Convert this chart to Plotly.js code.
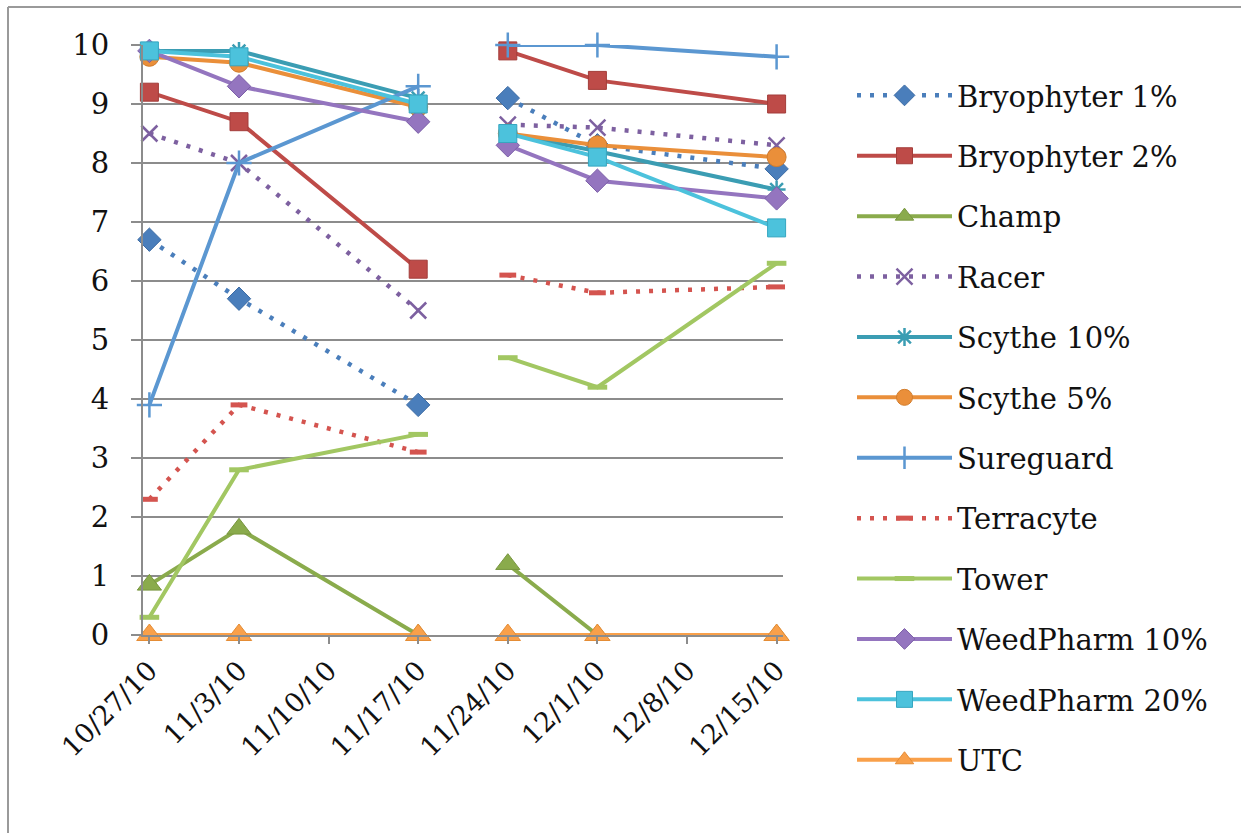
<!DOCTYPE html>
<html>
<head>
<meta charset="utf-8">
<script src="https://cdn.plot.ly/plotly-3.0.1.min.js"></script>
<style>
html,body{margin:0;padding:0;background:#fff;}
#chart{width:1241px;height:833px;}
</style>
</head>
<body>
<div id="chart"></div>
<script>
// ---- data ----
const dates = ['2010-10-27','2010-11-03','2010-11-17','2010-11-24','2010-12-01','2010-12-15'];
const tickDates = ['2010-10-27','2010-11-03','2010-11-10','2010-11-17','2010-11-24','2010-12-01','2010-12-08','2010-12-15'];
const tickLabels = ['10/27/10','11/3/10','11/10/10','11/17/10','11/24/10','12/1/10','12/8/10','12/15/10'];
const seriesNames = ['Bryophyter 1%','Bryophyter 2%','Champ','Racer','Scythe 10%','Scythe 5%','Sureguard','Terracyte','Tower','WeedPharm 10%','WeedPharm 20%','UTC'];
const bryophyter1 = [6.7, 5.7, 3.9, 9.1, 8.3, 7.9];
const bryophyter2 = [9.2, 8.7, 6.2, 9.9, 9.4, 9.0];
const champ       = [0.85, 1.8, 0, 1.2, 0, 0];
const racer       = [8.5, 8.0, 5.5, 8.65, 8.6, 8.3];
const scythe10    = [9.9, 9.9, 9.1, 8.5, 8.2, 7.55];
const scythe5     = [9.8, 9.7, 8.95, 8.5, 8.3, 8.1];
const sureguard   = [3.9, 8.0, 9.3, 10.0, 10.0, 9.8];
const terracyte   = [2.3, 3.9, 3.1, 6.1, 5.8, 5.9];
const tower       = [0.3, 2.8, 3.4, 4.7, 4.2, 6.3];
const weedPharm10 = [9.9, 9.3, 8.7, 8.3, 7.7, 7.4];
const weedPharm20 = [9.9, 9.8, 9.0, 8.5, 8.1, 6.9];
const utc         = [0, 0, 0, 0, 0, 0];
const seriesValues = [bryophyter1, bryophyter2, champ, racer, scythe10, scythe5, sureguard, terracyte, tower, weedPharm10, weedPharm20, utc];

// ---- styles ----
const DOT = '4px,9px';
const styles = [
  {color:'#4a7ebb', dash:DOT,    symbol:'diamond',        size:18, mline:'#3d6ca5', lw:4.5},
  {color:'#be4b48', dash:'solid',symbol:'square',         size:18, mline:'#a33d3a', lw:4},
  {color:'#8aab4c', dash:'solid',symbol:'triangle-up',    size:21, mline:'#78963f', lw:4},
  {color:'#7d60a0', dash:DOT,    symbol:'x-thin-open',    size:16, mline:'#7d60a0', lw:4.5},
  {color:'#3b9db3', dash:'solid',symbol:'asterisk-open',  size:15, mline:'#3b9db3', lw:4},
  {color:'#ea8f3a', dash:'solid',symbol:'circle',         size:19, mline:'#d27d2c', lw:4},
  {color:'#5b97d1', dash:'solid',symbol:'cross-thin-open',size:18, mline:'#5b97d1', lw:4},
  {color:'#d4544f', dash:DOT,    symbol:'line-ew-open',   size:12, mline:'#d4544f', lw:4.5},
  {color:'#a2c762', dash:'solid',symbol:'line-ew-open',   size:14, mline:'#a2c762', lw:4},
  {color:'#9475bf', dash:'solid',symbol:'diamond',        size:18, mline:'#7c5fa8', lw:4},
  {color:'#4cc2dc', dash:'solid',symbol:'square',         size:18, mline:'#36a6c0', lw:4},
  {color:'#f9a04a', dash:'solid',symbol:'triangle-up',    size:22, mline:'#e48c35', lw:4}
];
const segments = [[0,3],[3,6]];

const traces = [];
seriesNames.forEach((name, i) => {
  const s = styles[i];
  const openSym = s.symbol.indexOf('open') >= 0;
  segments.forEach((seg, k) => {
    traces.push({
      type:'scatter', mode:'lines+markers', name:name,
      legendgroup:name, showlegend:k===0, cliponaxis:false,
      x: dates.slice(seg[0], seg[1]),
      y: seriesValues[i].slice(seg[0], seg[1]),
      line:{color:s.color, width:s.lw, dash:s.dash},
      marker:{symbol:s.symbol, size:s.size, color:s.color,
              line:{color:s.mline, width: openSym ? (s.symbol==='line-ew-open' ? 5 : 2.5) : 1}},
      hoverinfo:'x+y+name'
    });
  });
});

// plot area in pixels: x 143..783, y 45..635
const L = 143, R = 1241-783, T = 45, B = 833-635;
const pw = 640, ph = 590;
const px = v => (v - L) / pw;
const py = v => (635 - v) / ph;

const FONT = '"DejaVu Serif", serif';
const layout = {
  width:1241, height:833,
  margin:{l:L, r:R, t:T, b:B, pad:0},
  paper_bgcolor:'#ffffff', plot_bgcolor:'#ffffff',
  font:{family:FONT, color:'#111', size:26},
  showlegend:true,
  legend:{x:px(852), y:py(70), xanchor:'left', yanchor:'top',
          font:{size:29, family:FONT, color:'#111'},
          traceorder:'grouped', tracegroupgap:19.7, itemwidth:95,
          maxheight:800, bgcolor:'rgba(0,0,0,0)'},
  xaxis:{type:'date', range:['2010-10-26 12:00','2010-12-15 12:00'],
         tickmode:'array', tickvals:tickDates, ticktext:tickLabels, tickangle:-45,
         ticks:'outside', ticklen:7, tickwidth:2, tickcolor:'#8c8c8c',
         showgrid:false, zeroline:false, showline:true, linecolor:'#8c8c8c', linewidth:2,
         tickfont:{size:27, family:FONT, color:'#111'}, fixedrange:true},
  yaxis:{range:[0,10], dtick:1, tick0:0,
         ticks:'outside', ticklen:10, tickwidth:2, tickcolor:'#8c8c8c',
         showgrid:true, gridcolor:'#8c8c8c', gridwidth:2,
         zeroline:false, showline:true, linecolor:'#8c8c8c', linewidth:2,
         tickfont:{size:29, family:FONT, color:'#111'},
         ticklabelstandoff:16, fixedrange:true},
  shapes:[
    {type:'line', xref:'paper', yref:'paper', x0:px(8), x1:px(1241), y0:py(7), y1:py(7), line:{color:'#9a9a9a', width:2}},
    {type:'line', xref:'paper', yref:'paper', x0:px(8), x1:px(8), y0:py(7), y1:py(833), line:{color:'#9a9a9a', width:2}}
  ]
};

Plotly.newPlot('chart', traces, layout, {displayModeBar:false, staticPlot:true});
</script>
</body>
</html>
